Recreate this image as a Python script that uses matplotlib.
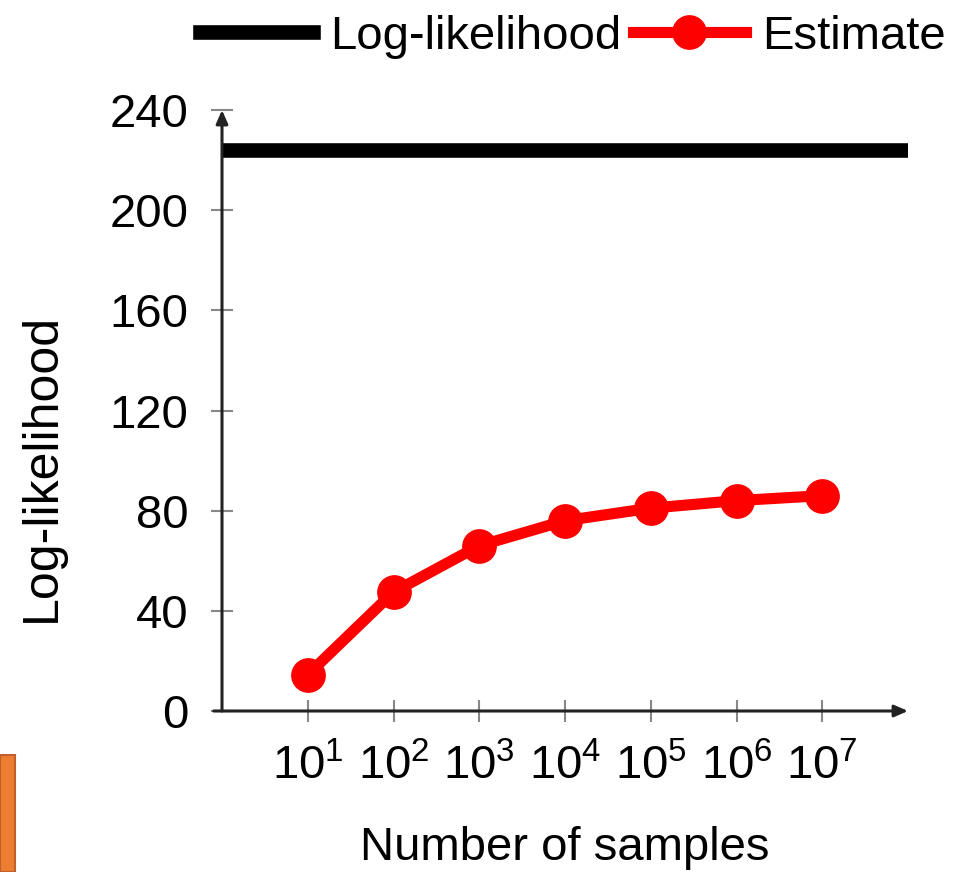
import matplotlib
matplotlib.use("Agg")
import matplotlib.pyplot as plt
from matplotlib.patches import Rectangle
from matplotlib.lines import Line2D

plt.rcParams['font.family'] = ['Liberation Sans', 'DejaVu Sans']
plt.rcParams['mathtext.fontset'] = 'custom'
plt.rcParams['mathtext.rm'] = 'Liberation Sans'
plt.rcParams['mathtext.it'] = 'Liberation Sans'
plt.rcParams['mathtext.default'] = 'regular'

samples = [1e1, 1e2, 1e3, 1e4, 1e5, 1e6, 1e7]
estimate = [14.5, 47.5, 66, 76, 81, 84, 86]
log_likelihood = 224
yticks = [0, 40, 80, 120, 160, 200, 240]
xtick_labels = ['$10^{1}$', '$10^{2}$', '$10^{3}$', '$10^{4}$', '$10^{5}$', '$10^{6}$', '$10^{7}$']

W, H = 961, 872
fig = plt.figure(figsize=(W/100, H/100), dpi=100)
ax = fig.add_axes([222/W, 1-711/H, (908-222)/W, (711-110)/H])

ax.set_xscale('log')
ax.set_xlim(1, 1e8)
ax.set_ylim(0, 240)

ax.axhline(log_likelihood, color='black', lw=10.5, zorder=3)
ax.plot(samples, estimate, color='red', lw=8, marker='o', ms=24, zorder=4)

for s in ax.spines.values():
    s.set_visible(False)
ac = '#222222'
ax.annotate('', xy=(1.0, 0), xytext=(-0.012, 0), xycoords='axes fraction',
            arrowprops=dict(arrowstyle='-|>,head_length=0.8,head_width=0.35', color=ac, lw=2.2, shrinkA=0, shrinkB=0))
ax.annotate('', xy=(0, 1.0), xytext=(0, 0), xycoords='axes fraction',
            arrowprops=dict(arrowstyle='-|>,head_length=0.8,head_width=0.35', color=ac, lw=2.2, shrinkA=0, shrinkB=0))

ax.set_xticks(samples)
ax.set_xticklabels(xtick_labels)
ax.xaxis.set_minor_locator(matplotlib.ticker.NullLocator())
ax.set_yticks(yticks)
ax.tick_params(axis='both', direction='inout', length=16, width=1.5, color='#888888', labelsize=34)
ax.tick_params(axis='x', pad=16)
ax.tick_params(axis='y', pad=16)

ax.set_xlabel('Number of samples', fontsize=34)
ax.xaxis.set_label_coords(0.5, -(826-711)/601)
ax.set_ylabel('Log-likelihood', fontsize=36)
ax.yaxis.label.set_va('center')
ax.yaxis.set_label_coords(-0.262, 0.406)

handles = [Line2D([], [], color='black', lw=10.5),
           Line2D([], [], color='red', lw=8, marker='o', ms=24)]
fig.legend(handles, ['Log-likelihood', 'Estimate'], loc='center', bbox_to_anchor=(573/W, 1-37/H),
           ncol=2, frameon=False, fontsize=34, handlelength=2.4, handletextpad=0.35,
           columnspacing=0.25, borderpad=0, borderaxespad=0)

fig.patches.append(Rectangle((0, 0), 15/W, (872-755)/H, transform=fig.transFigure,
                             facecolor='#ED7D31', edgecolor='#C0602A', lw=1.5, figure=fig))

fig.savefig('out.png', dpi=100)
